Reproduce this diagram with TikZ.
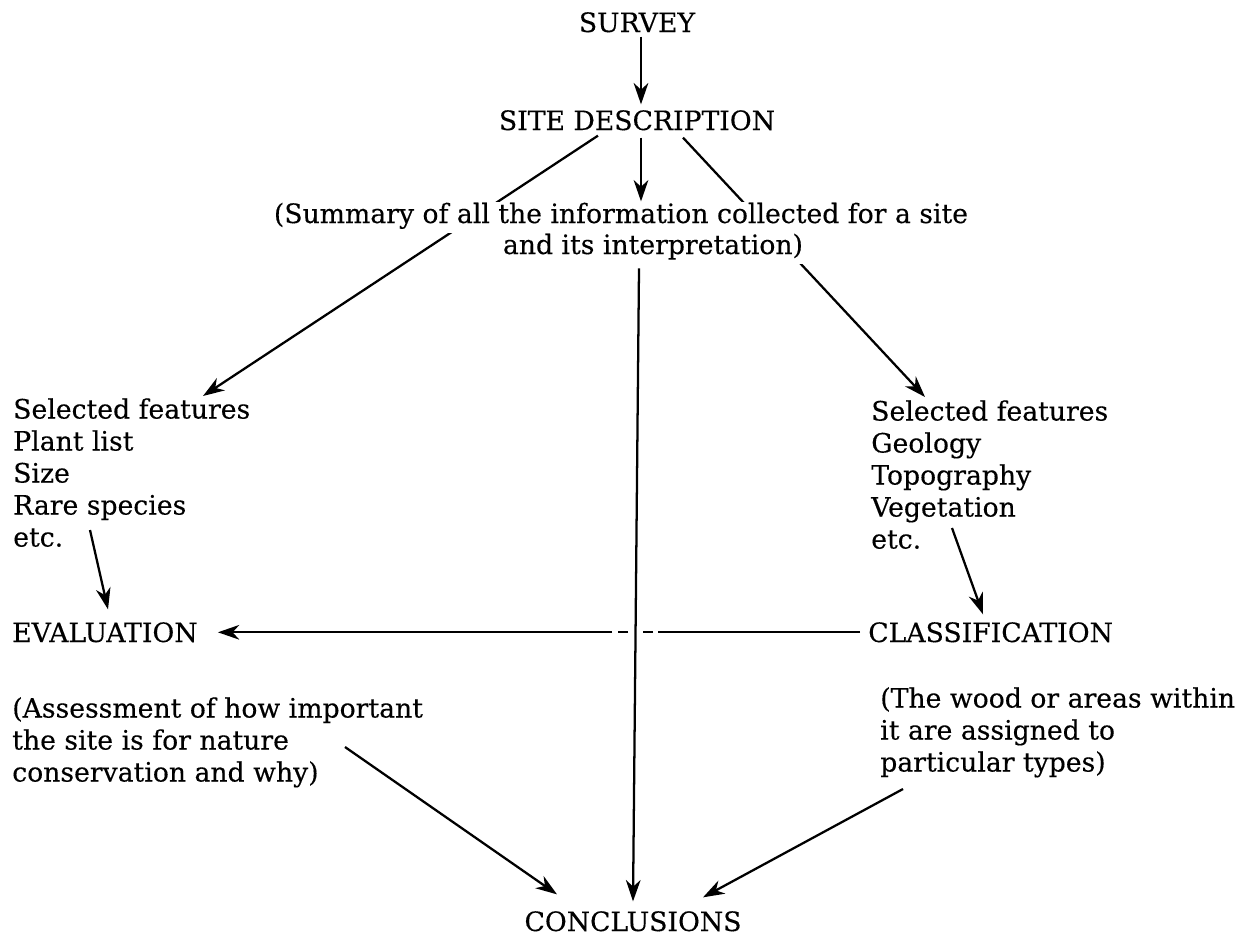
\documentclass[tikz,border=0pt]{standalone}
\usepackage{fontspec}
\setmainfont{DejaVu Serif}[FakeBold=0.3]
\usetikzlibrary{arrows.meta,calc}
\begin{document}
\begin{tikzpicture}[x=0.75pt,y=-0.75pt,
  txt/.style={inner sep=0pt, font=\fontsize{20}{24}\selectfont},
  captxt/.style={txt},
  multi/.style={txt, align=left},
  arr/.style={line width=1.7pt, -{Stealth[length=16pt,width=11pt,inset=5pt]}},
  lbl/.style={txt, fill=white, text height=16pt, text depth=7.5pt, inner xsep=2pt}
]
\useasboundingbox (0,0) rectangle (1238,935);
\coordinate (mx) at (641,0);
\coordinate (lxa) at (639,0);
\coordinate (lxb) at (633,0);

\node[captxt, anchor=base] (survey) at (637,32) {SURVEY};
\node[captxt, anchor=base] (site) at (637,130) {SITE DESCRIPTION};
\node[multi, anchor=north west] (featL) at (13,398) {Selected features\\Plant list\\Size\\Rare species\\etc.};
\node[multi, anchor=north west] (featR) at (871,400) {Selected features\\Geology\\Topography\\Vegetation\\etc.};
\node[captxt, anchor=base west] (eval) at (12,642) {EVALUATION};
\node[captxt, anchor=base west] (class) at (868,642) {CLASSIFICATION};
\node[multi, anchor=north west] (assess) at (12,697) {(Assessment of how important\\the site is for nature\\conservation and why)};
\node[multi, anchor=north west] (wood) at (880,687) {(The wood or areas within\\it are assigned to\\particular types)};
\node[captxt, anchor=base] (concl) at (633,931) {CONCLUSIONS};

% lines that pass behind the summary text
\draw[arr] ($(site.south)+(-39,5)$) -- ($(featL.north west)+(190,-2)$);
\draw[arr] ($(site.south)+(46,7)$) -- ($(featR.north west)+(54,-3)$);

\node[lbl, anchor=base west] (sum1) at (271,223) {(Summary of all the information collected for a site};
\node[lbl, anchor=base west] (sum2) at (500,254) {and its interpretation)};

\draw[arr] ($(survey.south -| mx)+(0,4)$) -- ($(site.north -| mx)+(0,-5.6)$);
\draw[arr] ($(site.south -| mx)+(0,7)$) -- (sum1.north -| mx);

\draw[arr] ($(featL.north west)+(77,132)$) -- ($(eval.north west)+(96,-12.6)$);
\draw[arr] ($(featR.north west)+(81,128)$) -- ($(class.north west)+(115,-7.6)$);

\draw[arr, shorten <=6pt, shorten >=15pt,
  dash pattern=on 151.5pt off 3.75pt on 7.5pt off 11.25pt on 7.5pt off 4.5pt on 2000pt]
  (class.west) -- (eval.east);

\draw[arr] ($(sum2.south -| lxa)+(0,4)$) -- ($(concl.north -| lxb)+(0,-9.6)$);
\draw[arr] ($(assess.north west)+(333,50)$) -- ($(concl.north)+(-76,-16.6)$);
\draw[arr] ($(wood.north west)+(23,102)$) -- ($(concl.north)+(70,-13.6)$);
\end{tikzpicture}
\end{document}
